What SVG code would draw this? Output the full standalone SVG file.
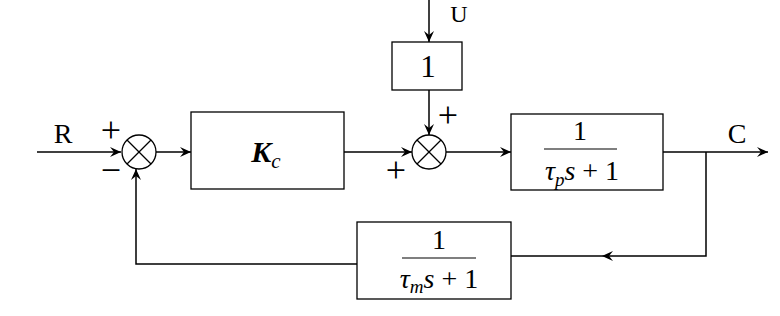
<svg xmlns="http://www.w3.org/2000/svg" width="780" height="316" viewBox="0 0 780 316">
<style>
.b{fill:#fff;stroke:#000;stroke-width:1.3}
.w{fill:none;stroke:#000;stroke-width:1.5}
.t{font-family:"Liberation Serif","Times New Roman",serif;fill:#000}
.i{font-style:italic}
</style>
<defs>
<marker id="a" viewBox="-11 -6 12 12" refX="0" refY="0" markerWidth="12" markerHeight="12" markerUnits="userSpaceOnUse" orient="auto">
<path d="M0,0 L-11,-5 L-7,0 L-11,5 Z" fill="#000"/>
</marker>
</defs>
<g id="connectors">
<line class="w" x1="37" y1="152" x2="121" y2="152" marker-end="url(#a)"/>
<line class="w" x1="156" y1="152" x2="191" y2="152" marker-end="url(#a)"/>
<line class="w" x1="344" y1="152" x2="412" y2="152" marker-end="url(#a)"/>
<line class="w" x1="429" y1="0" x2="429" y2="42" marker-end="url(#a)"/>
<line class="w" x1="429" y1="90" x2="429" y2="135" marker-end="url(#a)"/>
<line class="w" x1="446" y1="152" x2="511" y2="152" marker-end="url(#a)"/>
<line class="w" x1="663" y1="152" x2="768" y2="152" marker-end="url(#a)"/>
<polyline class="w" points="706,152 706,256 602,256" marker-end="url(#a)"/>
<line class="w" x1="602" y1="256" x2="511" y2="256"/>
<polyline class="w" points="357,264 136,264 136,169" marker-end="url(#a)"/>
</g>
<g id="sum1">
<circle class="b" cx="139" cy="152" r="17"/>
<line class="w" x1="127" y1="140" x2="151" y2="164" style="stroke-width:1.3"/>
<line class="w" x1="151" y1="140" x2="127" y2="164" style="stroke-width:1.3"/>
</g>
<g id="sum2">
<circle class="b" cx="429" cy="152" r="17"/>
<line class="w" x1="417" y1="140" x2="441" y2="164" style="stroke-width:1.3"/>
<line class="w" x1="441" y1="140" x2="417" y2="164" style="stroke-width:1.3"/>
</g>
<g id="Kc">
<rect class="b" x="191" y="112" width="153" height="77"/>
<text class="t i" x="266" y="162" font-size="30" text-anchor="middle" font-weight="bold">K<tspan font-size="21" dy="6" font-weight="normal">c</tspan></text>
</g>
<g id="gain1">
<rect class="b" x="392" y="42" width="70" height="48"/>
<text class="t" x="428" y="77" font-size="31" text-anchor="middle">1</text>
</g>
<g id="plant">
<rect class="b" x="511" y="114" width="152" height="76"/>
<text class="t" x="580" y="140" font-size="28" text-anchor="middle">1</text>
<line class="w" x1="544" y1="149" x2="617" y2="149" style="stroke-width:1.2"/>
<text class="t" x="582" y="180" font-size="28" text-anchor="middle"><tspan class="i">τ</tspan><tspan class="i" font-size="19" dy="6">p</tspan><tspan class="i" dy="-6">s</tspan> + 1</text>
</g>
<g id="sensor">
<rect class="b" x="357" y="222" width="154" height="77"/>
<text class="t" x="439" y="249" font-size="28" text-anchor="middle">1</text>
<line class="w" x1="402" y1="258" x2="476" y2="258" style="stroke-width:1.2"/>
<text class="t" x="439" y="288" font-size="28" text-anchor="middle"><tspan class="i">τ</tspan><tspan class="i" font-size="19" dy="5">m</tspan><tspan class="i" dy="-5">s</tspan> + 1</text>
</g>
<g id="labels">
<text class="t" x="63" y="143" font-size="28" text-anchor="middle">R</text>
<text class="t" x="459" y="22" font-size="24" text-anchor="middle">U</text>
<text class="t" x="737" y="143" font-size="28" text-anchor="middle">C</text>
<text class="t" x="111" y="142" font-size="36" text-anchor="middle">+</text>
<text class="t" x="111" y="182" font-size="36" text-anchor="middle">−</text>
<text class="t" x="448" y="127" font-size="36" text-anchor="middle">+</text>
<text class="t" x="396" y="182" font-size="36" text-anchor="middle">+</text>
</g>
</svg>
